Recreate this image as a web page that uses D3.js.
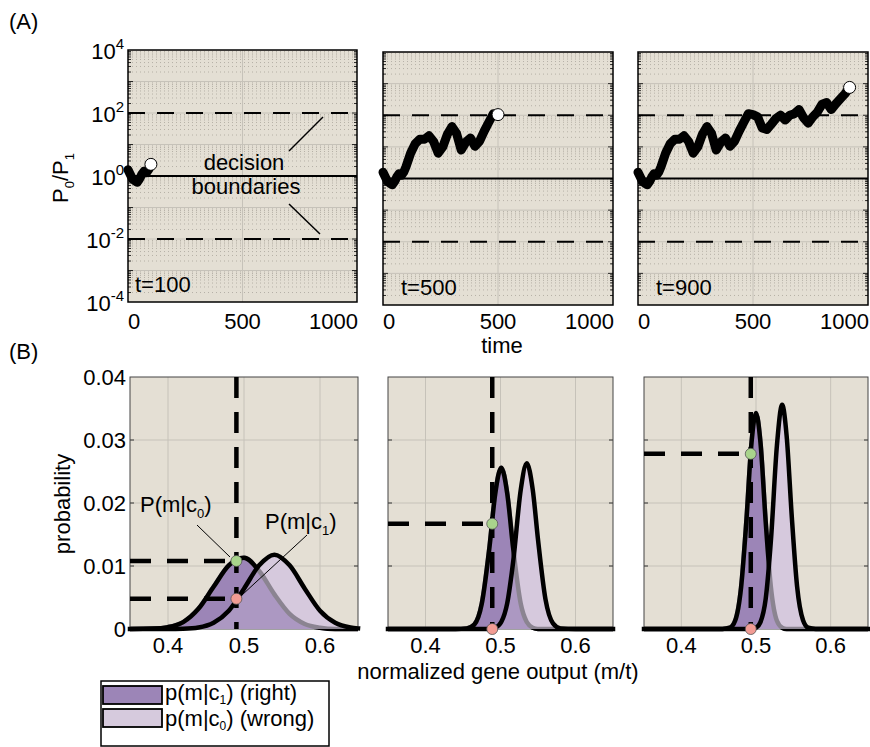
<!DOCTYPE html>
<html lang="en">
<head>
<meta charset="utf-8">
<title>Decision boundaries and output distributions</title>
<script src="https://d3js.org/d3.v7.min.js"></script>
<style>
  body { margin: 0; background: #fff; }
  svg text { font-family: "Liberation Sans", Arial, sans-serif; fill: #000; font-size: 22px; }
</style>
</head>
<body>
<script>
// ---- data ----
// (A) log10(P0/P1) along time
var times = [0, 10, 20, 30, 40, 50, 60, 70, 80, 90, 100,
  120, 140, 160, 180, 200, 220, 240, 260, 280, 300, 320, 340, 360, 380, 400,
  420, 440, 460, 480, 500, 520, 540, 560, 580, 600, 620, 640, 660, 680, 700,
  720, 740, 760, 780, 800, 820, 840, 860, 880, 900, 920];
var logRatio = [0.2, 0.05, -0.1, -0.15, -0.2, -0.1, 0.05, 0.15, 0.1, 0.2, 0.37,
  0.8, 1.1, 1.24, 1.24, 1.35, 1.17, 0.8, 1.0, 1.4, 1.64, 1.42, 0.9, 1.15, 1.28, 1.02,
  1.18, 1.5, 1.78, 2.05, 2.02, 1.95, 1.6, 1.55, 1.72, 1.9, 2.0, 1.85, 2.0, 2.05, 2.18,
  1.92, 1.75, 1.95, 2.1, 2.35, 2.4, 2.18, 2.36, 2.52, 2.68, 2.88];
var stopTimes = [100, 500, 920];
var stopLabels = ["t=100", "t=500", "t=900"];
var ratioTickExp = [4, 2, 0, -2, -4];
var boundaryExp = [2, -2];
var timeTicks = [0, 500, 1000];

// (B) distributions of normalized gene output, one grid per snapshot
var grid100 = [0.35, 0.38, 0.40, 0.42, 0.44, 0.46, 0.48, 0.50, 0.52, 0.54, 0.56, 0.58, 0.60, 0.62, 0.64, 0.65];
var right100 = [0, 0.00006, 0.0003, 0.0011, 0.0032, 0.0067, 0.0101, 0.0113, 0.0092, 0.0055, 0.0024, 0.0008, 0.0002, 0, 0, 0];
var wrong100 = [0, 0, 0, 0.00005, 0.00025, 0.001, 0.0029, 0.0064, 0.0101, 0.0118, 0.0101, 0.0064, 0.0029, 0.001, 0.00025, 0.0001];

var grid500 = [0.35, 0.44, 0.455, 0.465, 0.475, 0.485, 0.493, 0.501, 0.509, 0.517, 0.527, 0.535, 0.543, 0.55, 0.56, 0.57, 0.58, 0.60, 0.65];
var right500 = [0, 0, 0.0001, 0.0007, 0.004, 0.0127, 0.0215, 0.0256, 0.0215, 0.0127, 0.004, 0.0011, 0.0002, 0, 0, 0, 0, 0, 0];
var wrong500 = [0, 0, 0, 0, 0, 0, 0.0002, 0.0011, 0.0041, 0.0108, 0.0221, 0.0263, 0.0221, 0.0142, 0.0047, 0.0009, 0.0001, 0, 0];

var grid900 = [0.35, 0.455, 0.465, 0.472, 0.48, 0.487, 0.494, 0.500, 0.506, 0.513, 0.52, 0.528, 0.535, 0.541, 0.548, 0.555, 0.563, 0.570, 0.58, 0.65];
var right900 = [0, 0, 0.0002, 0.0013, 0.0066, 0.017, 0.0296, 0.0343, 0.0296, 0.017, 0.0066, 0.0013, 0.0002, 0, 0, 0, 0, 0, 0, 0];
var wrong900 = [0, 0, 0, 0, 0, 0, 0, 0.0002, 0.0011, 0.0048, 0.0141, 0.0291, 0.0356, 0.0307, 0.0177, 0.0068, 0.0014, 0.0002, 0, 0];

var decisionM = [0.49, 0.489, 0.493];
var dotRight = [0.0108, 0.0167, 0.0278];   // green marker
var dotWrong = [0.0048, 0, 0];             // pink marker
var probTicks = [0, 0.01, 0.02, 0.03, 0.04];
var probLabels = ["0", "0.01", "0.02", "0.03", "0.04"];
var outTicks = [0.4, 0.5, 0.6];

// ---- layout ----
var W = 870, H = 747;
var aLeft = [128, 383, 638], aRight = [357, 613, 868], aTop = [50, 52, 52], aBottom = [302, 305, 305];
var labelDx = [7, 18, 18];
var bLeft = [130, 388, 644], bRight = [358, 613, 868], bTop = 377, bBottom = 629;

var bg = "#e4dfd4", gridCol = "#c6c2b9";
var dark = "#9c85b7", light = "#d6cadd";
var subSize = 13;

var svg = d3.select("body").append("svg").attr("width", W).attr("height", H);

var trace = times.map(function(t, i) { return {t: t, v: logRatio[i]}; });

// ---------- panels A ----------
for (var p = 0; p < 3; p++) {
  var x = d3.scaleLinear().domain([0, 1000]).range([aLeft[p], aRight[p]]);
  var y = d3.scaleLog().domain([1e-4, 1e4]).range([aBottom[p], aTop[p]]);
  var g = svg.append("g");

  g.append("rect").attr("x", aLeft[p]).attr("y", aTop[p])
    .attr("width", aRight[p] - aLeft[p]).attr("height", aBottom[p] - aTop[p])
    .attr("fill", bg);

  // minor log grid (dotted)
  var minors = [];
  for (var k = -4; k < 4; k++) for (var m = 2; m <= 9; m++) minors.push(m * Math.pow(10, k));
  g.selectAll(".minor").data(minors).enter().append("line")
    .attr("x1", aLeft[p]).attr("x2", aRight[p])
    .attr("y1", function(d) { return y(d); }).attr("y2", function(d) { return y(d); })
    .attr("stroke", "#aaa59b").attr("stroke-width", 0.8).attr("stroke-dasharray", "1,3");
  var decades = d3.range(-3, 4);
  g.selectAll(".major").data(decades).enter().append("line")
    .attr("x1", aLeft[p]).attr("x2", aRight[p])
    .attr("y1", function(d) { return y(Math.pow(10, d)); }).attr("y2", function(d) { return y(Math.pow(10, d)); })
    .attr("stroke", gridCol).attr("stroke-width", 1);
  g.append("line").attr("x1", x(500)).attr("x2", x(500)).attr("y1", aTop[p]).attr("y2", aBottom[p])
    .attr("stroke", gridCol).attr("stroke-width", 1);

  // side ticks
  var allTicks = minors.concat(decades.map(function(d) { return Math.pow(10, d); }));
  [aLeft[p], aRight[p]].forEach(function(sx, si) {
    var dir = si === 0 ? 1 : -1;
    g.selectAll(null).data(allTicks).enter().append("line")
      .attr("x1", sx).attr("x2", function(d) { return sx + dir * (Math.abs(Math.log10(d) % 1) < 1e-9 ? 5 : 3); })
      .attr("y1", function(d) { return y(d); }).attr("y2", function(d) { return y(d); })
      .attr("stroke", "#000").attr("stroke-width", 0.8);
  });

  // decision boundaries + even line
  g.selectAll(".bound").data(boundaryExp).enter().append("line")
    .attr("x1", aLeft[p]).attr("x2", aRight[p])
    .attr("y1", function(d) { return y(Math.pow(10, d)); }).attr("y2", function(d) { return y(Math.pow(10, d)); })
    .attr("stroke", "#000").attr("stroke-width", 2.2).attr("stroke-dasharray", "17,12");
  g.append("line").attr("x1", aLeft[p]).attr("x2", aRight[p]).attr("y1", y(1)).attr("y2", y(1))
    .attr("stroke", "#000").attr("stroke-width", 2.2);

  // trace
  var seg = trace.filter(function(d) { return d.t <= stopTimes[p]; });
  g.append("path").datum(seg)
    .attr("d", d3.line().x(function(d) { return x(d.t); }).y(function(d) { return y(Math.pow(10, d.v)); }))
    .attr("fill", "none").attr("stroke", "#000").attr("stroke-width", 9)
    .attr("stroke-linejoin", "round").attr("stroke-linecap", "round");
  var last = seg[seg.length - 1];
  g.append("circle").attr("cx", x(last.t)).attr("cy", y(Math.pow(10, last.v))).attr("r", 6)
    .attr("fill", "#fff").attr("stroke", "#000").attr("stroke-width", 1);

  g.append("rect").attr("x", aLeft[p]).attr("y", aTop[p])
    .attr("width", aRight[p] - aLeft[p]).attr("height", aBottom[p] - aTop[p])
    .attr("fill", "none").attr("stroke", "#000").attr("stroke-width", 1.5);

  g.append("text").attr("x", aLeft[p] + labelDx[p]).attr("y", aBottom[p] - 10).text(stopLabels[p]);

  // x tick labels
  g.selectAll(".xl").data(timeTicks).enter().append("text")
    .attr("x", function(d, i) { return i === 0 ? aLeft[p] : (i === 2 ? aRight[p] + 1 : x(d)); })
    .attr("y", 329)
    .attr("text-anchor", function(d, i) { return i === 0 ? "start" : (i === 2 ? "end" : "middle"); })
    .text(function(d) { return d; });

  if (p === 0) {
    var yl = g.selectAll(".yl").data(ratioTickExp).enter().append("text")
      .attr("x", aLeft[p] - 4).attr("y", function(d) { return y(Math.pow(10, d)) + 9; })
      .attr("text-anchor", "end");
    yl.append("tspan").text("10");
    yl.append("tspan").attr("dy", -10).attr("font-size", 15).text(function(d) { return d; });
  }
}

// annotations for panel A
var ann = svg.append("g");
ann.append("text").attr("x", 244).attr("y", 170).attr("text-anchor", "middle").attr("font-size", 22.5).text("decision");
ann.append("text").attr("x", 246).attr("y", 194).attr("text-anchor", "middle").attr("font-size", 22.5).text("boundaries");
ann.append("line").attr("x1", 323).attr("y1", 117).attr("x2", 289).attr("y2", 151).attr("stroke", "#000").attr("stroke-width", 1.5);
ann.append("line").attr("x1", 289).attr("y1", 204).attr("x2", 320).attr("y2", 234).attr("stroke", "#000").attr("stroke-width", 1.5);

var yLabA = svg.append("text").attr("transform", "translate(68,178) rotate(-90)").attr("text-anchor", "middle");
yLabA.append("tspan").text("P");
yLabA.append("tspan").attr("dy", 6).attr("font-size", subSize).text("0");
yLabA.append("tspan").attr("dy", -6).text("/P");
yLabA.append("tspan").attr("dy", 6).attr("font-size", subSize).text("1");

svg.append("text").attr("x", 502).attr("y", 353).attr("text-anchor", "middle").text("time");
svg.append("text").attr("x", 9).attr("y", 29).text("(A)");
svg.append("text").attr("x", 9).attr("y", 359).text("(B)");

// ---------- panels B ----------
var grids = [grid100, grid500, grid900];
var rights = [right100, right500, right900];
var wrongs = [wrong100, wrong500, wrong900];
var defs = svg.append("defs");

for (var q = 0; q < 3; q++) {
  var bx = d3.scaleLinear().domain([0.35, 0.65]).range([bLeft[q], bRight[q]]);
  var by = d3.scaleLinear().domain([0, 0.04]).range([bBottom, bTop]);
  var gb = svg.append("g");
  var rightPts = grids[q].map(function(v, i) { return [v, rights[q][i]]; });
  var wrongPts = grids[q].map(function(v, i) { return [v, wrongs[q][i]]; });

  var area = d3.area().x(function(d) { return bx(d[0]); }).y0(by(0)).y1(function(d) { return by(d[1]); })
    .curve(d3.curveMonotoneX);
  var line = d3.line().x(function(d) { return bx(d[0]); }).y(function(d) { return by(d[1]); })
    .curve(d3.curveMonotoneX);

  gb.append("rect").attr("x", bLeft[q]).attr("y", bTop).attr("width", bRight[q] - bLeft[q])
    .attr("height", bBottom - bTop).attr("fill", bg);

  gb.selectAll(".gx").data(outTicks).enter().append("line")
    .attr("x1", function(d) { return bx(d); }).attr("x2", function(d) { return bx(d); })
    .attr("y1", bTop).attr("y2", bBottom).attr("stroke", gridCol).attr("stroke-width", 1);
  gb.selectAll(".gy").data(probTicks.slice(1, 4)).enter().append("line")
    .attr("x1", bLeft[q]).attr("x2", bRight[q])
    .attr("y1", function(d) { return by(d); }).attr("y2", function(d) { return by(d); })
    .attr("stroke", gridCol).attr("stroke-width", 1);
  // inward ticks
  [bLeft[q], bRight[q]].forEach(function(sx, si) {
    var dir = si === 0 ? 1 : -1;
    gb.selectAll(null).data(probTicks.slice(1, 4)).enter().append("line")
      .attr("x1", sx).attr("x2", sx + dir * 4)
      .attr("y1", function(d) { return by(d); }).attr("y2", function(d) { return by(d); })
      .attr("stroke", "#333").attr("stroke-width", 1);
  });
  gb.append("rect").attr("x", bLeft[q]).attr("y", bTop).attr("width", bRight[q] - bLeft[q])
    .attr("height", bBottom - bTop).attr("fill", "none").attr("stroke", "#444").attr("stroke-width", 1);

  // mask: everything except the area under the "wrong" curve
  var mk = defs.append("mask").attr("id", "mk" + q).attr("maskUnits", "userSpaceOnUse")
    .attr("x", 0).attr("y", 0).attr("width", W).attr("height", H);
  mk.append("rect").attr("x", 0).attr("y", 0).attr("width", W).attr("height", H).attr("fill", "#fff");
  mk.append("path").datum(wrongPts).attr("d", area).attr("fill", "#000");

  gb.append("path").datum(wrongPts).attr("d", area).attr("fill", light);
  gb.append("path").datum(rightPts).attr("d", area).attr("fill", dark);
  gb.append("path").datum(wrongPts).attr("d", area).attr("fill", light).attr("fill-opacity", 0.28);
  gb.append("path").datum(rightPts).attr("d", line).attr("fill", "none")
    .attr("stroke", "#8b8491").attr("stroke-width", 4.5);
  gb.append("path").datum(rightPts).attr("d", line).attr("fill", "none")
    .attr("stroke", "#000").attr("stroke-width", 4.5).attr("mask", "url(#mk" + q + ")");
  gb.append("path").datum(wrongPts).attr("d", line).attr("fill", "none")
    .attr("stroke", "#000").attr("stroke-width", 4.5).attr("stroke-linecap", "square");

  // decision dashed lines
  var dm = bx(decisionM[q]);
  gb.append("line").attr("x1", dm).attr("x2", dm).attr("y1", bTop).attr("y2", bBottom)
    .attr("stroke", "#000").attr("stroke-width", 4.5).attr("stroke-dasharray", "21,14");
  [dotRight[q], dotWrong[q]].forEach(function(v) {
    if (v > 0) gb.append("line").attr("x1", bLeft[q]).attr("x2", dm).attr("y1", by(v)).attr("y2", by(v))
      .attr("stroke", "#000").attr("stroke-width", 4.5).attr("stroke-dasharray", "21,16");
  });
  gb.append("circle").attr("cx", dm).attr("cy", by(dotRight[q])).attr("r", 5.5)
    .attr("fill", "#a9d48c").attr("stroke", "#555").attr("stroke-width", 0.8);
  gb.append("circle").attr("cx", dm).attr("cy", by(dotWrong[q])).attr("r", 5.5)
    .attr("fill", "#f29c94").attr("stroke", "#555").attr("stroke-width", 0.8);

  gb.selectAll(".bxl").data(outTicks).enter().append("text")
    .attr("x", function(d) { return bx(d); }).attr("y", 653).attr("text-anchor", "middle")
    .text(function(d) { return d.toFixed(1); });

  if (q === 0) {
    gb.selectAll(".byl").data(probTicks).enter().append("text")
      .attr("x", 126).attr("y", function(d) { return by(d) + 8; }).attr("text-anchor", "end")
      .text(function(d, i) { return probLabels[i]; });

    var t0 = gb.append("text").attr("x", 140).attr("y", 512);
    t0.append("tspan").text("P(m|c");
    t0.append("tspan").attr("dy", 6).attr("font-size", subSize).text("0");
    t0.append("tspan").attr("dy", -6).text(")");
    var t1 = gb.append("text").attr("x", 265).attr("y", 529);
    t1.append("tspan").text("P(m|c");
    t1.append("tspan").attr("dy", 6).attr("font-size", subSize).text("1");
    t1.append("tspan").attr("dy", -6).text(")");
    gb.append("line").attr("x1", 197).attr("y1", 525).attr("x2", 230).attr("y2", 557).attr("stroke", "#000").attr("stroke-width", 1);
    gb.append("line").attr("x1", 307).attr("y1", 535).attr("x2", 242).attr("y2", 595).attr("stroke", "#000").attr("stroke-width", 1);
  }
}

svg.append("text").attr("transform", "translate(70,504) rotate(-90)").attr("text-anchor", "middle").text("probability");
svg.append("text").attr("x", 498).attr("y", 679).attr("text-anchor", "middle").text("normalized gene output (m/t)");

// legend
var lg = svg.append("g");
lg.append("rect").attr("x", 101).attr("y", 681).attr("width", 228).attr("height", 65)
  .attr("fill", "#fff").attr("stroke", "#000").attr("stroke-width", 1.5);
var legendItems = [{fill: dark, sub: "1", tail: ") (right)"}, {fill: light, sub: "0", tail: ") (wrong)"}];
legendItems.forEach(function(it, i) {
  lg.append("rect").attr("x", 103).attr("y", 686 + i * 23).attr("width", 59).attr("height", 18)
    .attr("fill", it.fill).attr("stroke", "#000").attr("stroke-width", 1.8);
  var tx = lg.append("text").attr("x", 165).attr("y", 700 + i * 26).attr("font-size", 19.5);
  tx.append("tspan").text("p(m|c");
  tx.append("tspan").attr("dy", 4).attr("font-size", 12).text(it.sub);
  tx.append("tspan").attr("dy", -4).text(it.tail);
});
</script>
</body>
</html>
